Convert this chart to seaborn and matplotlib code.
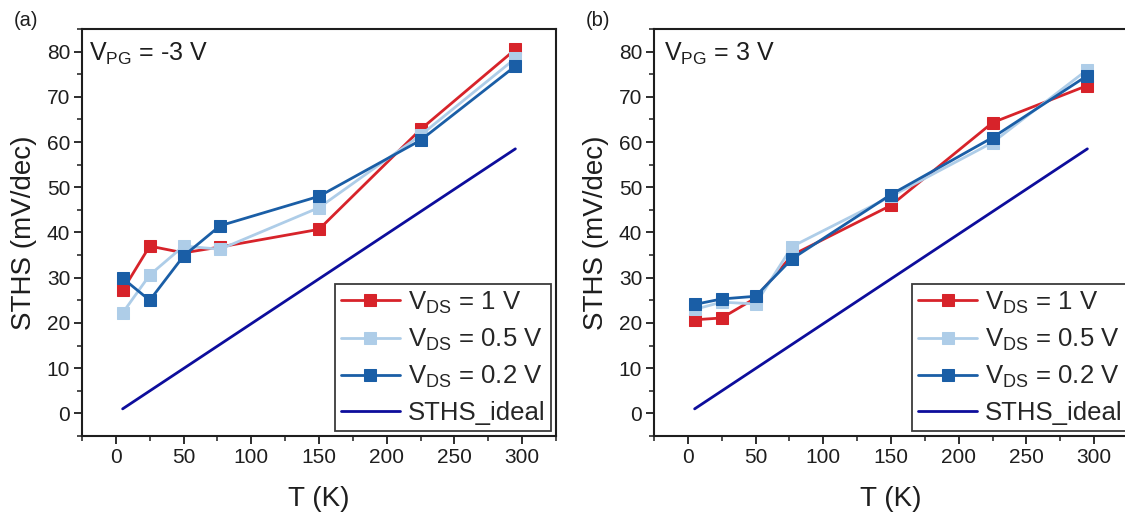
import matplotlib
matplotlib.use("Agg")
import matplotlib.pyplot as plt
import seaborn as sns
import pandas as pd
from matplotlib.ticker import MultipleLocator

# ---------------- data ----------------
T = [5, 25, 50, 77, 150, 225, 295]

a_vds1 = [27.2, 37.0, 35.5, 36.8, 40.7, 62.8, 80.5]
a_vds05 = [22.2, 30.6, 37.0, 36.3, 45.5, 61.5, 78.5]
a_vds02 = [29.9, 25.0, 34.8, 41.5, 48.0, 60.4, 76.8]

b_vds1 = [20.7, 21.1, 25.5, 35.0, 46.0, 64.3, 72.5]
b_vds05 = [23.0, 24.6, 24.2, 36.9, 48.0, 59.9, 76.0]
b_vds02 = [24.1, 25.3, 25.9, 34.2, 48.4, 61.0, 74.7]

T_ideal = [5, 295]
sths_ideal = [1.0, 58.5]

series_labels = [r"V$_\mathregular{DS}$ = 1 V", r"V$_\mathregular{DS}$ = 0.5 V",
                 r"V$_\mathregular{DS}$ = 0.2 V"]
ideal_label = "STHS_ideal"
panel_titles = ["(a)", "(b)"]
vpg_labels = [r"V$_\mathregular{PG}$ = -3 V", r"V$_\mathregular{PG}$ = 3 V"]
xlabel = "T (K)"
ylabel = "STHS (mV/dec)"

colors = ["#d7232a", "#aecde8", "#1a5ea6"]
ideal_color = "#0d0d9c"

# ---------------- style ----------------
sns.set_theme(style="ticks")
plt.rcParams["font.family"] = ["Liberation Sans", "DejaVu Sans"]
plt.rcParams["mathtext.fontset"] = "custom"
plt.rcParams["mathtext.rm"] = "Liberation Sans"

W, H = 1125, 516
fig = plt.figure(figsize=(W / 100, H / 100), dpi=100)
fig.patch.set_facecolor("white")

def fx(px):
    return px / W

def fy(py):
    return 1 - py / H

panels = [
    (82, [a_vds1, a_vds05, a_vds02], 0.014, 1.0),
    (654, [b_vds1, b_vds05, b_vds02], 0.022, 1.011),
]
ax_top, ax_bot, ax_w = 29, 436, 474
ink = "#1e1e1e"

for i, (left, data, vx, lx) in enumerate(panels):
    ax = fig.add_axes([fx(left), fy(ax_bot), ax_w / W, (ax_bot - ax_top) / H])
    ax.set_facecolor("white")
    for vals, c, lab in zip(data, colors, series_labels):
        df = pd.DataFrame({"T": T, "S": vals})
        sns.lineplot(data=df, x="T", y="S", ax=ax, color=c, marker="s",
                     markersize=8, markeredgecolor=c, markerfacecolor=c,
                     linewidth=2, label=lab, zorder=3)
    dfi = pd.DataFrame({"T": T_ideal, "S": sths_ideal})
    sns.lineplot(data=dfi, x="T", y="S", ax=ax, color=ideal_color, linewidth=2,
                 label=ideal_label, zorder=2)

    ax.set_xlim(-25, 325)
    ax.set_ylim(-5, 85)
    ax.xaxis.set_major_locator(MultipleLocator(50))
    ax.xaxis.set_minor_locator(MultipleLocator(25))
    ax.yaxis.set_major_locator(MultipleLocator(10))
    ax.yaxis.set_minor_locator(MultipleLocator(5))
    ax.tick_params(axis="both", which="major", direction="out", length=5.5, width=1.3,
                   labelsize=15, colors=ink, labelcolor=ink, pad=3)
    ax.tick_params(axis="both", which="minor", direction="out", length=3.5, width=1.1,
                   colors=ink)
    ax.tick_params(top=False, right=False, which="both")
    for s in ax.spines.values():
        s.set_visible(True)
        s.set_linewidth(1.5)
        s.set_color(ink)
    ax.set_xlabel(xlabel, fontsize=20, labelpad=14, color=ink)
    ax.set_ylabel(ylabel, fontsize=20, labelpad=7, color=ink)

    ax.text(vx, 0.921, vpg_labels[i], transform=ax.transAxes, fontsize=18,
            ha="left", va="baseline", color=ink)
    fig.text(fx(left - 68), fy(21), panel_titles[i], fontsize=14.5, ha="left",
             va="center", color=ink)

    leg = ax.legend(loc="lower right", bbox_to_anchor=(lx, 0.0),
                    borderaxespad=0.2, fontsize=18.5, frameon=True, fancybox=False,
                    shadow=False, handlelength=2.3, handletextpad=0.3,
                    labelspacing=0.42, borderpad=0.22)
    frame = leg.get_frame()
    frame.set_edgecolor("#3a3a3a")
    frame.set_linewidth(1.3)
    frame.set_facecolor("white")
    frame.set_alpha(1)

fig.savefig("out.png", dpi=100)
